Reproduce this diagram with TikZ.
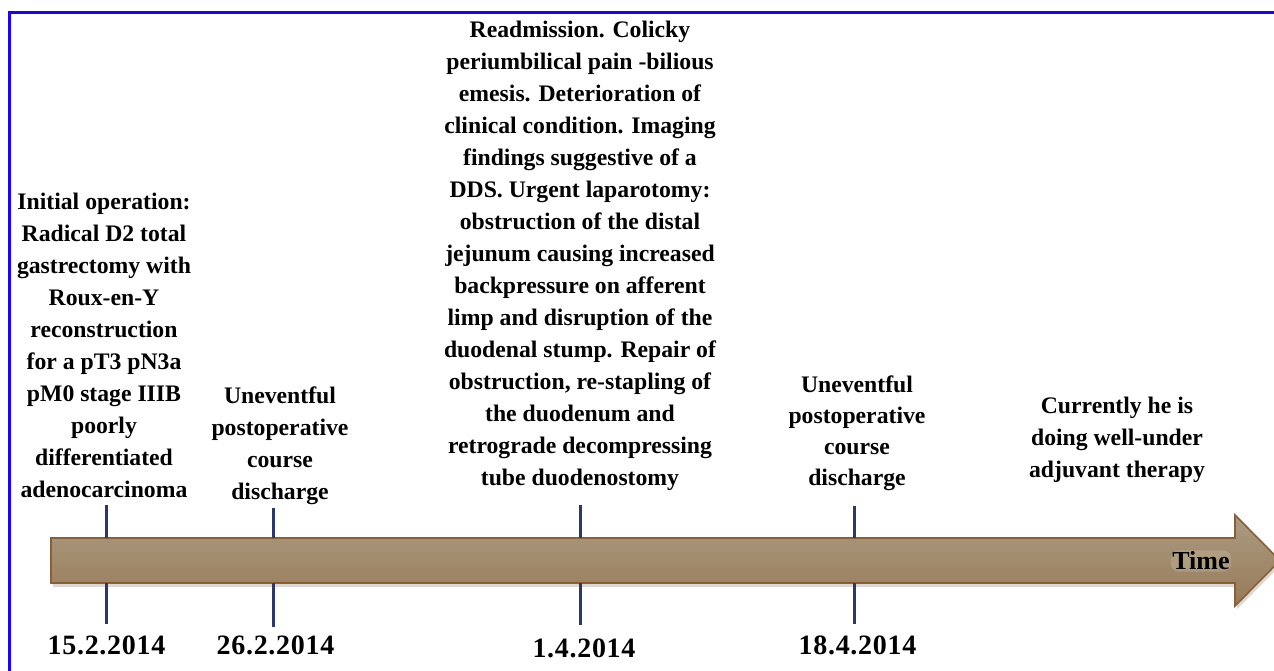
\documentclass[tikz,border=0pt]{standalone}
\usepackage{fontspec}
\setmainfont{Liberation Serif}
\newfontfamily\datefont[LetterSpace=2.5]{Liberation Serif}
\usetikzlibrary{calc}
\definecolor{bordblue}{RGB}{30,0,255}
\definecolor{tickblue}{RGB}{46,56,104}
\definecolor{arrtop}{RGB}{170,156,130}
\definecolor{arrbot}{RGB}{152,122,88}
\definecolor{arredge}{RGB}{140,94,52}
\definecolor{glow}{RGB}{240,236,210}
\tikzset{
  evtext/.style={align=center, inner sep=0pt, anchor=north,
    font=\fontsize{23.7}{32}\selectfont\bfseries},
  datetext/.style={inner sep=0pt, anchor=base,
    font=\fontsize{28}{30}\selectfont\datefont\bfseries},
  tickline/.style={draw=tickblue, line width=3pt},
  timearrow/.style={draw=arredge, line width=1.6pt, top color=arrtop, bottom color=arrbot},
  timelabel/.style={inner sep=1.5pt, rounded corners=8pt, fill=glow, fill opacity=0.18,
    text opacity=1, font=\fontsize{26}{28}\selectfont\bfseries},
}
\begin{document}
\begin{tikzpicture}[x=1pt,y=-1pt]
\useasboundingbox (0,0) rectangle (1274,671);
\fill[white] (0,0) rectangle (1274,671);
% frame
\draw[bordblue, line width=2.8pt] (9.7,680) -- (9.7,12.5) -- (1290,12.5);
% arrow shadow
\fill[black, opacity=0.15] (53,541) -- (1237,541) -- (1237,518) -- (1283,563) -- (1237,609) -- (1237,587) -- (53,587) -- cycle;
% arrow
\path[timearrow] (51,538) -- (1235,538) -- (1235,515) -- (1280,560.5) -- (1235,606) -- (1235,583) -- (51,583) -- cycle;
% Time label
\node[timelabel] (time) at (1201,561) {Time};
% tick coordinates
\coordinate (t1a) at (106,505); \coordinate (t1b) at (106,538);
\coordinate (t1c) at (106,583); \coordinate (t1d) at (106,624);
\coordinate (t2a) at (273,508); \coordinate (t2b) at (273,538);
\coordinate (t2c) at (273,583); \coordinate (t2d) at (273,627);
\coordinate (t3a) at (580,505); \coordinate (t3b) at (580,538);
\coordinate (t3c) at (580,583); \coordinate (t3d) at (580,625);
\coordinate (t4a) at (854,506); \coordinate (t4b) at (854,538);
\coordinate (t4c) at (854,583); \coordinate (t4d) at (854,624);
\foreach \i in {1,2,3,4} {
  \draw[tickline] (t\i a) -- (t\i b);
  \draw[tickline] (t\i c) -- (t\i d);
}
% dates
\node[datetext] (d1) at (106.5,654) {15.2.2014};
\node[datetext] (d2) at (275.5,654) {26.2.2014};
\node[datetext] (d3) at (584,657) {1.4.2014};
\node[datetext] (d4) at (857.5,654) {18.4.2014};
% event texts
\node[evtext] (e1) at (104,193) {Initial operation:\\Radical D2 total\\gastrectomy with\\Roux-en-Y\\reconstruction\\for a pT3 pN3a\\pM0 stage IIIB\\poorly\\differentiated\\adenocarcinoma};
\node[evtext] (e2) at (280,387) {Uneventful\\postoperative\\course\\discharge};
\node[evtext] (e3) at (580,21) {Readmission. Colicky\\periumbilical pain -bilious\\emesis. Deterioration of\\clinical condition. Imaging\\findings suggestive of a\\DDS. Urgent laparotomy:\\obstruction of the distal\\jejunum causing increased\\backpressure on afferent\\limp and disruption of the\\duodenal stump. Repair of\\obstruction, re-stapling of\\the duodenum and\\retrograde decompressing\\tube duodenostomy};
\node[evtext, font=\fontsize{23.7}{31}\selectfont\bfseries] (e4) at (857,376) {Uneventful\\postoperative\\course\\discharge};
\node[evtext] (e5) at (1117,397) {Currently he is\\doing well-under\\adjuvant therapy};
\end{tikzpicture}
\end{document}
